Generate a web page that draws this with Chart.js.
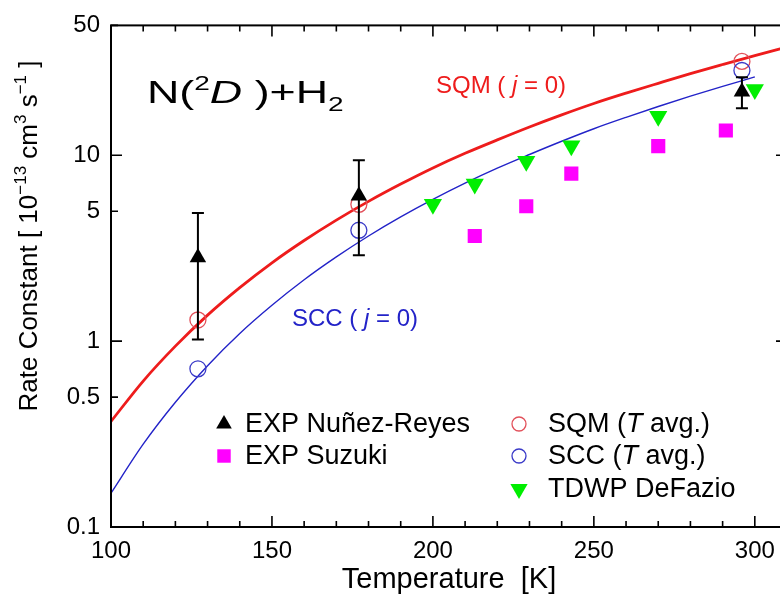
<!DOCTYPE html>
<html>
<head>
<meta charset="utf-8">
<title>N(2D)+H2 rate constant</title>
<script src="https://cdn.jsdelivr.net/npm/chart.js@4.4.1/dist/chart.umd.min.js"></script>
<style>
  html, body { margin: 0; padding: 0; background: #fff; overflow: hidden; }
  #wrap { position: relative; width: 800px; height: 597px; }
</style>
</head>
<body>
<div id="wrap"><canvas id="rateChart"></canvas></div>
<script>
// --- data (k in 10^-13 cm3 s-1, T in K) ---
const curveT = [100, 110, 120, 130, 140, 150, 160, 170, 180, 190, 200, 210, 220, 230, 240, 250, 260, 270, 280, 290, 300, 310];
const sqmJ0 = [0.37, 0.61, 0.94, 1.38, 1.94, 2.64, 3.48, 4.48, 5.65, 7.0, 8.55, 10.25, 12.1, 14.2, 16.5, 19.0, 21.6, 24.4, 27.5, 30.8, 34.4, 38.2];
const sccCurveT = [100, 110, 120, 130, 140, 150, 160, 170, 180, 190, 200, 210, 220, 230, 240, 250, 260, 270, 280, 290, 300];
const sccJ0 = [0.152, 0.279, 0.469, 0.738, 1.10, 1.56, 2.14, 2.84, 3.68, 4.66, 5.79, 7.08, 8.52, 10.1, 11.9, 13.9, 16.0, 18.3, 20.8, 23.5, 26.4];

const nunezT = [127, 177, 296];
const nunezK = [2.82, 6.05, 22.0];
const nunezLow = [1.02, 2.9, 17.9];
const nunezHigh = [4.9, 9.4, 26.3];

const suzukiT = [213, 229, 243, 270, 291];
const suzukiK = [3.68, 5.32, 7.97, 11.2, 13.6];

const avgT = [127, 177, 296];
const sqmAvgK = [1.30, 5.45, 32.0];
const sccAvgK = [0.71, 3.95, 28.6];

const defazioT = [200, 213, 229, 243, 270, 300];
const defazioK = [5.45, 7.0, 9.3, 11.25, 16.2, 22.6];

const xTicks = [100, 150, 200, 250, 300];
const xMinorTicks = [110, 120, 130, 140, 160, 170, 180, 190, 210, 220, 230, 240, 260, 270, 280, 290, 310];
const yTicks = [0.1, 0.5, 1, 5, 10, 50];

const FONT = '"Liberation Sans", Arial, Helvetica, sans-serif';
const RED = '#ee1c1c';
const BLUE = '#2323c8';

const pts = (xs, ys) => xs.map((x, i) => ({ x: x, y: ys[i] }));

// draws a run of text pieces (superscript / subscript / italic) from x
function drawRich(ctx, parts, x, y, size, color, align) {
    const fontFor = p => (p.it ? 'italic ' : '') + Math.round((p.sup || p.sub) ? size * 0.64 : size) + 'px ' + FONT;
    let total = 0;
    parts.forEach(p => { ctx.font = fontFor(p); total += ctx.measureText(p.t).width; });
    let cx = align === 'center' ? x - total / 2 : x;
    ctx.fillStyle = color;
    ctx.textBaseline = 'alphabetic';
    ctx.textAlign = 'left';
    parts.forEach(p => {
        ctx.font = fontFor(p);
        let dy = 0;
        if (p.sup) dy = -size * 0.42;
        if (p.sub) dy = size * 0.26;
        ctx.fillText(p.t, cx, y + dy);
        cx += ctx.measureText(p.t).width;
    });
}

// frame, inward ticks, error bars, labels and legend
const decorPlugin = {
    id: 'decor',
    afterDatasetsDraw(chart) {
        const ctx = chart.ctx;
        const a = chart.chartArea;
        const xs = chart.scales.x;
        const ys = chart.scales.y;
        ctx.save();

        // error bars of Nuñez-Reyes
        ctx.strokeStyle = '#000';
        ctx.lineWidth = 2;
        nunezT.forEach((t, i) => {
            const px = xs.getPixelForValue(t);
            const top = ys.getPixelForValue(nunezHigh[i]);
            const bot = ys.getPixelForValue(nunezLow[i]);
            ctx.beginPath();
            ctx.moveTo(px, top); ctx.lineTo(px, bot);
            ctx.moveTo(px - 6, top); ctx.lineTo(px + 6, top);
            ctx.moveTo(px - 6, bot); ctx.lineTo(px + 6, bot);
            ctx.stroke();
        });

        // frame
        ctx.lineWidth = 2;
        ctx.strokeRect(a.left, a.top, a.right - a.left, a.bottom - a.top);

        // inward ticks
        ctx.lineWidth = 1.6;
        ctx.beginPath();
        xTicks.concat(xMinorTicks).forEach(v => {
            const px = xs.getPixelForValue(v);
            const len = xTicks.includes(v) ? 11 : 6;
            ctx.moveTo(px, a.bottom); ctx.lineTo(px, a.bottom - len);
            ctx.moveTo(px, a.top); ctx.lineTo(px, a.top + len);
        });
        yTicks.forEach(v => {
            const py = ys.getPixelForValue(v);
            const len = [0.1, 1, 10].includes(v) ? 11 : 7;
            ctx.moveTo(a.left, py); ctx.lineTo(a.left + len, py);
            ctx.moveTo(a.right, py); ctx.lineTo(a.right - len, py);
        });
        ctx.stroke();

        // reaction label
        ctx.save();
        ctx.translate(147, 103);
        ctx.scale(1.4, 1);
        drawRich(ctx, [
            { t: 'N(' }, { t: '2', sup: true }, { t: 'D', it: true }, { t: ' )+H' }, { t: '2', sub: true }
        ], 0, 0, 32, '#000', 'left');
        ctx.restore();

        // curve labels
        drawRich(ctx, [{ t: 'SQM ( ' }, { t: 'j', it: true }, { t: ' = 0)' }], 436, 93, 24, RED, 'left');
        drawRich(ctx, [{ t: 'SCC ( ' }, { t: 'j', it: true }, { t: ' = 0)' }], 292, 326, 24, BLUE, 'left');

        // y axis title
        ctx.save();
        ctx.translate(37, 236);
        ctx.rotate(-Math.PI / 2);
        drawRich(ctx, [
            { t: 'Rate Constant [ 10' }, { t: '\u221213', sup: true }, { t: ' cm' }, { t: '3', sup: true },
            { t: ' s' }, { t: '\u22121', sup: true }, { t: ' ]' }
        ], 0, 0, 26, '#000', 'center');
        ctx.restore();

        // legend, two columns inside the plot
        const legendRows = [
            { ds: 6, x: 224, tx: 245, y: 432, text: [{ t: 'EXP Nuñez-Reyes' }] },
            { ds: 4, x: 224, tx: 245, y: 464, text: [{ t: 'EXP Suzuki' }] },
            { ds: 2, x: 519, tx: 548, y: 432, text: [{ t: 'SQM (' }, { t: 'T', it: true }, { t: ' avg.)' }] },
            { ds: 3, x: 519, tx: 548, y: 464, text: [{ t: 'SCC (' }, { t: 'T', it: true }, { t: ' avg.)' }] },
            { ds: 5, x: 519, tx: 548, y: 497, text: [{ t: 'TDWP DeFazio' }] }
        ];
        legendRows.forEach(row => {
            const d = chart.data.datasets[row.ds];
            ctx.fillStyle = d.backgroundColor;
            ctx.strokeStyle = d.borderColor;
            ctx.lineWidth = d.borderWidth;
            const r = d.pointStyle === 'circle' ? 7 : d.pointRadius * 0.95;
            Chart.helpers.drawPoint(ctx, {
                pointStyle: d.pointStyle, rotation: d.rotation || 0, radius: r, borderWidth: d.borderWidth
            }, row.x, row.y - 8);
            drawRich(ctx, row.text, row.tx, row.y, 27, '#000', 'left');
        });

        ctx.restore();
    }
};

const ctx = document.getElementById('rateChart').getContext('2d');
const rateChart = new Chart(ctx, {
    type: 'scatter',
    data: {
        datasets: [
            {
                label: 'SQM (j = 0)',
                data: pts(curveT, sqmJ0),
                showLine: true,
                borderColor: RED,
                borderWidth: 2.8,
                pointRadius: 0,
                cubicInterpolationMode: 'monotone',
                order: 10
            },
            {
                label: 'SCC (j = 0)',
                data: pts(sccCurveT, sccJ0),
                showLine: true,
                borderColor: BLUE,
                borderWidth: 1.4,
                pointRadius: 0,
                cubicInterpolationMode: 'monotone',
                order: 9
            },
            {
                label: 'SQM (T avg.)',
                data: pts(avgT, sqmAvgK),
                pointStyle: 'circle',
                pointRadius: 8,
                borderColor: '#e2505a',
                backgroundColor: 'rgba(0,0,0,0)',
                borderWidth: 1.3,
                order: 5
            },
            {
                label: 'SCC (T avg.)',
                data: pts(avgT, sccAvgK),
                pointStyle: 'circle',
                pointRadius: 8,
                borderColor: '#3a3ac8',
                backgroundColor: 'rgba(0,0,0,0)',
                borderWidth: 1.3,
                order: 4
            },
            {
                label: 'EXP Suzuki',
                data: pts(suzukiT, suzukiK),
                pointStyle: 'rect',
                pointRadius: 10,
                borderColor: '#ff00ff',
                backgroundColor: '#ff00ff',
                borderWidth: 0,
                order: 3
            },
            {
                label: 'TDWP DeFazio',
                data: pts(defazioT, defazioK),
                pointStyle: 'triangle',
                rotation: 180,
                pointRadius: 10.5,
                borderColor: '#00ee00',
                backgroundColor: '#00ee00',
                borderWidth: 0,
                order: 2
            },
            {
                label: 'EXP Nuñez-Reyes',
                data: pts(nunezT, nunezK),
                pointStyle: 'triangle',
                pointRadius: 9.5,
                borderColor: '#000',
                backgroundColor: '#000',
                borderWidth: 0,
                order: 1
            }
        ]
    },
    options: {
        responsive: true,
        maintainAspectRatio: false,
        animation: false,
        layout: {
            padding: { top: 25, right: 13, bottom: 0, left: 0 }
        },
        plugins: {
            legend: { display: false },
            tooltip: { enabled: false }
        },
        scales: {
            x: {
                type: 'linear',
                min: 100,
                max: 310,
                afterBuildTicks: scale => { scale.ticks = xTicks.map(v => ({ value: v })); },
                afterFit: scale => { scale.height = 70; },
                grid: { display: false, drawTicks: false },
                border: { display: false },
                ticks: {
                    color: '#000',
                    font: { family: FONT, size: 24 },
                    padding: 10,
                    maxRotation: 0,
                    autoSkip: false
                },
                title: {
                    display: true,
                    text: 'Temperature  [K]',
                    color: '#000',
                    font: { family: FONT, size: 29 },
                    padding: { top: 0, bottom: 0 }
                }
            },
            y: {
                type: 'logarithmic',
                min: 0.1,
                max: 50,
                afterBuildTicks: scale => { scale.ticks = yTicks.map(v => ({ value: v })); },
                afterFit: scale => { scale.width = 111; },
                grid: { display: false, drawTicks: false },
                border: { display: false },
                ticks: {
                    color: '#000',
                    font: { family: FONT, size: 24 },
                    padding: 11,
                    autoSkip: false,
                    callback: value => String(value)
                }
            }
        }
    },
    plugins: [decorPlugin]
});
</script>
</body>
</html>
